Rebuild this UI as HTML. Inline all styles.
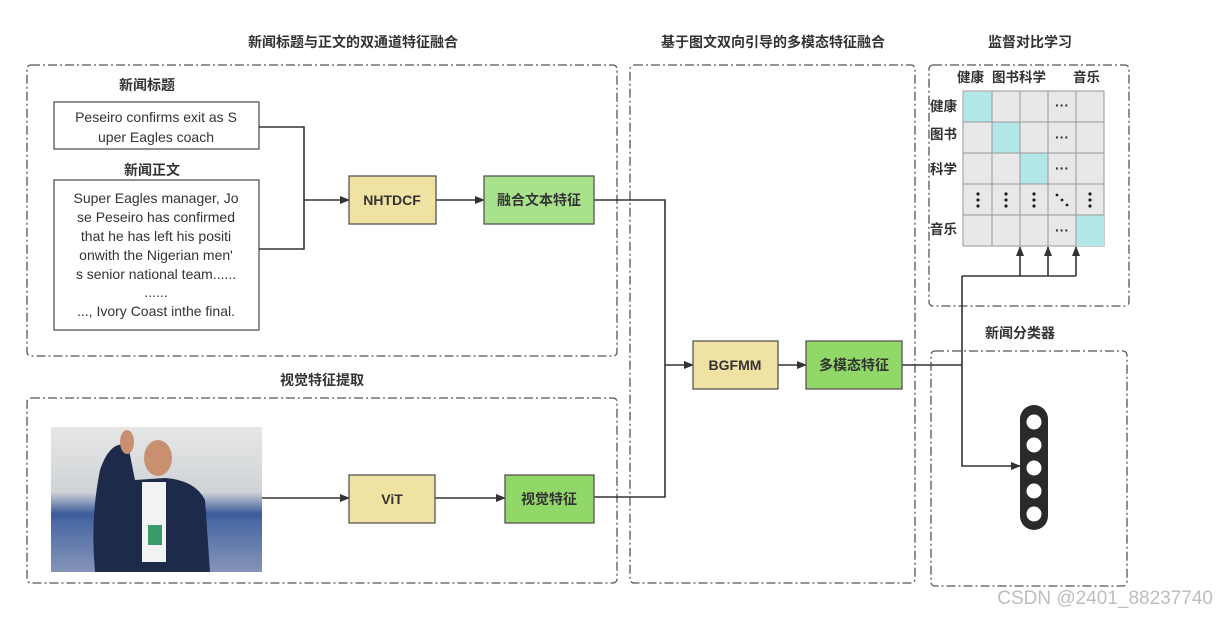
<!DOCTYPE html>
<html><head><meta charset="utf-8"><style>
html,body{margin:0;padding:0;background:#fff;}
svg{display:block;}
.t{font-family:"Liberation Sans","Noto Sans CJK SC",sans-serif;fill:#333;}
.b{font-weight:bold;}
</style></head><body>
<svg width="1217" height="617" viewBox="0 0 1217 617" xmlns="http://www.w3.org/2000/svg">
<defs>
<marker id="a" markerWidth="10" markerHeight="8" refX="9" refY="4" orient="auto" markerUnits="userSpaceOnUse"><path d="M0,0 L10,4 L0,8 z" fill="#333"/></marker>
<linearGradient id="bg" x1="0" y1="0" x2="0" y2="1"><stop offset="0" stop-color="#e6e6e6"/><stop offset="0.45" stop-color="#cfd3d6"/><stop offset="0.6" stop-color="#3a5a9a"/><stop offset="1" stop-color="#c0c0c8"/></linearGradient>
</defs>
<g fill="none" stroke="#555" stroke-width="1.3" stroke-dasharray="9,3,2,3">
<rect x="27" y="65" width="590" height="291" rx="4"/>
<rect x="27" y="398" width="590" height="185" rx="4"/>
<rect x="630" y="65" width="285" height="518" rx="4"/>
<rect x="929" y="65" width="200" height="241" rx="4"/>
<rect x="931" y="351" width="196" height="235" rx="4"/>
</g>
<g class="t b" font-size="14" text-anchor="middle">
<text x="353" y="47">新闻标题与正文的双通道特征融合</text>
<text x="773" y="47">基于图文双向引导的多模态特征融合</text>
<text x="1030" y="47">监督对比学习</text>
<text x="322" y="385">视觉特征提取</text>
<text x="1020" y="338">新闻分类器</text>
<text x="147" y="90">新闻标题</text>
<text x="152" y="175">新闻正文</text>
</g>
<rect x="54" y="102" width="205" height="47" fill="#fff" stroke="#555" stroke-width="1.3"/>
<rect x="54" y="180" width="205" height="150" fill="#fff" stroke="#555" stroke-width="1.3"/>
<g class="t" font-size="14" text-anchor="middle" fill="#444">
<text x="156" y="122">Peseiro confirms exit as S</text>
<text x="156" y="142">uper Eagles coach</text>
<text x="156" y="203">Super Eagles manager, Jo</text>
<text x="156" y="222">se Peseiro has confirmed</text>
<text x="156" y="241">that he has left his positi</text>
<text x="156" y="260">onwith the Nigerian men'</text>
<text x="156" y="279">s senior national team......</text>
<text x="156" y="297">......</text>
<text x="156" y="316">..., Ivory Coast inthe final.</text>
</g>
<g fill="none" stroke="#333" stroke-width="1.6">
<path d="M259,127 H304 V249 H259"/>
<path d="M304,200 H349" marker-end="url(#a)"/>
<path d="M436,200 H484" marker-end="url(#a)"/>
<path d="M262,498 H349" marker-end="url(#a)"/>
<path d="M435,498 H505" marker-end="url(#a)"/>
<path d="M594,200 H665 V497 H594"/>
<path d="M665,365 H693" marker-end="url(#a)"/>
<path d="M778,365 H806" marker-end="url(#a)"/>
<path d="M902,365 H962"/>
<path d="M962,276 V466 H1020" marker-end="url(#a)"/>
<path d="M962,276 H1076"/>
<path d="M1020,276 V247" marker-end="url(#a)"/>
<path d="M1048,276 V247" marker-end="url(#a)"/>
<path d="M1076,276 V247" marker-end="url(#a)"/>
</g>
<g stroke="#555" stroke-width="1.3">
<rect x="349" y="176" width="87" height="48" fill="#f0e2a2"/>
<rect x="484" y="176" width="110" height="48" fill="#a8e28c"/>
<rect x="349" y="475" width="86" height="48" fill="#f0e2a2"/>
<rect x="505" y="475" width="89" height="48" fill="#92d869"/>
<rect x="693" y="341" width="85" height="48" fill="#f0e2a2"/>
<rect x="806" y="341" width="96" height="48" fill="#92d869"/>
</g>
<g class="t b" font-size="14" text-anchor="middle">
<text x="392" y="205">NHTDCF</text>
<text x="539" y="205">融合文本特征</text>
<text x="392" y="504">ViT</text>
<text x="549" y="504">视觉特征</text>
<text x="735" y="370">BGFMM</text>
<text x="854" y="370">多模态特征</text>
</g>
<rect x="51" y="427" width="211" height="145" fill="url(#bg)"/>
<rect x="51" y="520" width="211" height="52" fill="#4a6aa8" opacity="0.5"/>
<path d="M100,470 Q110,440 128,445 L135,480 L165,478 Q195,480 205,500 L210,572 L95,572 Q90,520 100,470 z" fill="#1e2a4a"/>
<rect x="142" y="482" width="24" height="80" fill="#f2f2f2"/>
<ellipse cx="158" cy="458" rx="14" ry="18" fill="#c89070"/>
<ellipse cx="127" cy="442" rx="7" ry="12" fill="#c89070"/>
<rect x="148" y="525" width="14" height="20" fill="#3a9a6a"/>
<g stroke="#999" stroke-width="1" fill="#e8e8e8">
<rect x="963" y="91" width="141" height="155"/>
</g>
<g fill="#b3e6e6">
<rect x="964" y="92" width="28" height="30"/>
<rect x="992" y="122" width="28" height="31"/>
<rect x="1020" y="153" width="28" height="31"/>
<rect x="1076" y="215" width="28" height="31"/>
</g>
<g stroke="#999" stroke-width="1">
<path d="M992,91V246M1020,91V246M1048,91V246M1076,91V246M963,122H1104M963,153H1104M963,184H1104M963,215H1104"/>
</g>
<g class="t b" font-size="13.5">
<text x="957" y="82">健康</text><text x="992" y="82">图书科学</text><text x="1073" y="82">音乐</text>
<text x="930" y="111">健康</text><text x="930" y="139">图书</text><text x="930" y="174">科学</text><text x="930" y="234">音乐</text>
</g>
<g class="t b" font-size="14" text-anchor="middle">
<text x="1062" y="110">···</text><text x="1062" y="142">···</text><text x="1062" y="173">···</text><text x="1062" y="235">···</text>
</g>
<g fill="#222">
<circle cx="978" cy="194" r="1.6"/><circle cx="978" cy="200" r="1.6"/><circle cx="978" cy="206" r="1.6"/>
<circle cx="1006" cy="194" r="1.6"/><circle cx="1006" cy="200" r="1.6"/><circle cx="1006" cy="206" r="1.6"/>
<circle cx="1034" cy="194" r="1.6"/><circle cx="1034" cy="200" r="1.6"/><circle cx="1034" cy="206" r="1.6"/>
<circle cx="1090" cy="194" r="1.6"/><circle cx="1090" cy="200" r="1.6"/><circle cx="1090" cy="206" r="1.6"/>
<circle cx="1057" cy="195" r="1.4"/><circle cx="1062" cy="200" r="1.4"/><circle cx="1067" cy="205" r="1.4"/>
</g>
<rect x="1020" y="405" width="28" height="125" rx="14" fill="#2a2a2a"/>
<g fill="#fff"><circle cx="1034" cy="422" r="7.5"/><circle cx="1034" cy="445" r="7.5"/><circle cx="1034" cy="468" r="7.5"/><circle cx="1034" cy="491" r="7.5"/><circle cx="1034" cy="514" r="7.5"/></g>
<text x="1213" y="604" text-anchor="end" font-family="Liberation Sans,sans-serif" font-size="19" fill="#bdbdbd">CSDN @2401_88237740</text>
</svg>
</body></html>
